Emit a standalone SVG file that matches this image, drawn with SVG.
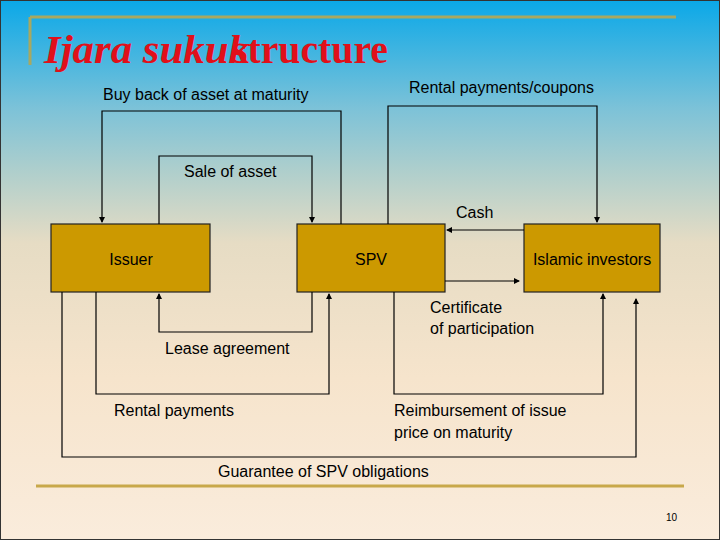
<svg xmlns="http://www.w3.org/2000/svg" width="720" height="540" viewBox="0 0 720 540">
<defs>
<linearGradient id="bg" x1="0" y1="0" x2="0" y2="1">
<stop offset="0" stop-color="#0aa8e8"/>
<stop offset="0.2" stop-color="#7cc2d8"/>
<stop offset="0.32" stop-color="#b0cfcc"/>
<stop offset="0.45" stop-color="#e6dcc4"/>
<stop offset="0.7" stop-color="#f6e4cc"/>
<stop offset="1" stop-color="#faecdc"/>
</linearGradient>
<marker id="a" markerWidth="6" markerHeight="6" refX="5" refY="3" orient="auto" markerUnits="userSpaceOnUse"><path d="M0,0 L6,3 L0,6 z" fill="#000"/></marker>
<style>
.t{font-family:"Liberation Sans",Arial,sans-serif;font-size:16px;fill:#000}
.b{fill:#cc9900;stroke:#222;stroke-width:1.2}
.c{fill:none;stroke:#000;stroke-width:1.2}
</style>
</defs>
<rect x="0" y="0" width="720" height="540" fill="url(#bg)" stroke="#333" stroke-width="2"/>
<path d="M30,17 H676 M30,17 V65" stroke="#a8a860" stroke-width="3" fill="none"/>
<line x1="36" y1="486" x2="684" y2="486" stroke="#c8a84a" stroke-width="3"/>
<text x="44" y="63" font-family="Liberation Serif,serif" font-size="40" font-weight="bold" fill="#e0101a"><tspan font-style="italic" textLength="206" lengthAdjust="spacingAndGlyphs">Ijara sukuk</tspan><tspan x="232" textLength="156" lengthAdjust="spacingAndGlyphs">structure</tspan></text>
<g id="issuer"><rect class="b" x="51" y="224" width="159" height="68"/><text class="t" x="131" y="265" text-anchor="middle">Issuer</text></g>
<g id="spv"><rect class="b" x="297" y="224" width="148" height="68"/><text class="t" x="371" y="265" text-anchor="middle">SPV</text></g>
<g id="investors"><rect class="b" x="524" y="224" width="136" height="68"/><text class="t" x="592" y="265" text-anchor="middle">Islamic investors</text></g>
<g id="connectors">
<path class="c" d="M341,224 V111 H102 V222" marker-end="url(#a)"/>
<path class="c" d="M159,224 V156 H312 V222" marker-end="url(#a)"/>
<path class="c" d="M388,224 V106 H597 V222" marker-end="url(#a)"/>
<path class="c" d="M524,230 H447" stroke-width="2" marker-end="url(#a)"/>
<path class="c" d="M445,281 H519" marker-end="url(#a)"/>
<path class="c" d="M312,292 V332 H159 V294" marker-end="url(#a)"/>
<path class="c" d="M96,292 V394 H329 V294" marker-end="url(#a)"/>
<path class="c" d="M394,292 V394 H603 V294" marker-end="url(#a)"/>
<path class="c" d="M62,292 V457 H636 V299" marker-end="url(#a)"/>
</g>
<text class="t" x="103" y="100">Buy back of asset at maturity</text>
<text class="t" x="409" y="93">Rental payments/coupons</text>
<text class="t" x="184" y="177">Sale of asset</text>
<text class="t" x="456" y="218">Cash</text>
<text class="t" x="430" y="313">Certificate</text>
<text class="t" x="430" y="334">of participation</text>
<text class="t" x="165" y="354">Lease agreement</text>
<text class="t" x="114" y="416">Rental payments</text>
<text class="t" x="394" y="416">Reimbursement of issue</text>
<text class="t" x="394" y="438">price on maturity</text>
<text class="t" x="218" y="477">Guarantee of SPV obligations</text>
<text x="666" y="521" font-family="Liberation Sans,sans-serif" font-size="10">10</text>
</svg>
